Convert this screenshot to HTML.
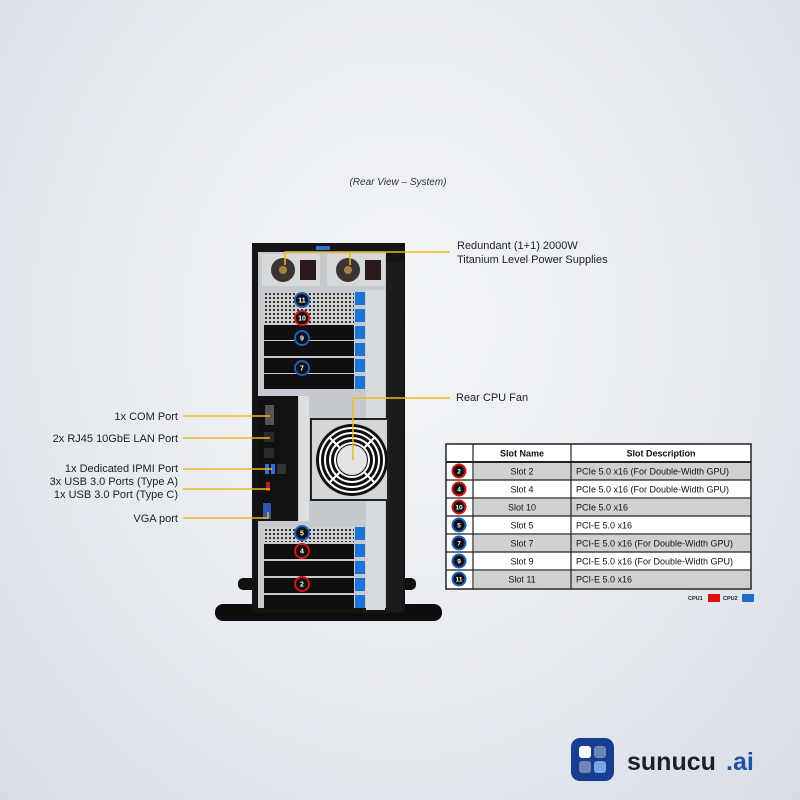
<!DOCTYPE html>
<html><head><meta charset="utf-8"><style>
html,body{margin:0;padding:0;width:800px;height:800px;overflow:hidden}
body{background:radial-gradient(ellipse at 50% 40%,#f3f5f8 0%,#e6e9ee 60%,#d8dde5 100%);font-family:"Liberation Sans",sans-serif}
</style></head><body>
<svg width="800" height="800" viewBox="0 0 800 800" xmlns="http://www.w3.org/2000/svg" font-family="Liberation Sans, sans-serif">
<defs>
<pattern id="gr" width="4" height="4" patternUnits="userSpaceOnUse"><rect width="4" height="4" fill="#d0d0d0"/><rect x="1" y="1" width="2" height="2" fill="#333"/></pattern>
</defs>
<text x="398" y="185" font-size="10" font-style="italic" fill="#333" text-anchor="middle">(Rear View – System)</text>

<!-- feet / base -->
<rect x="238" y="578" width="20" height="12" rx="5" fill="#111"/>
<rect x="392" y="578" width="24" height="12" rx="5" fill="#111"/>
<rect x="215" y="604" width="227" height="17" rx="8" fill="#0d0d0d"/>

<!-- chassis -->
<rect x="252" y="243" width="153" height="370" fill="#141414"/>
<rect x="316" y="246" width="14" height="4" fill="#2e6fd8"/>
<rect x="258" y="252" width="128" height="356" fill="#c6cacf"/>
<rect x="386" y="262" width="17" height="350" fill="#1b1b1b"/>
<!-- PSUs -->
<rect x="262" y="254" width="58" height="32" fill="#d6d8da"/>
<rect x="327" y="254" width="58" height="32" fill="#d6d8da"/>
<circle cx="283" cy="270" r="12" fill="#3a3530"/><circle cx="283" cy="270" r="4" fill="#a88040"/>
<circle cx="348" cy="270" r="12" fill="#3a3530"/><circle cx="348" cy="270" r="4" fill="#a88040"/>
<rect x="300" y="260" width="16" height="20" fill="#2a1a1a"/><rect x="365" y="260" width="16" height="20" fill="#2a1a1a"/>
<!-- right rail -->
<rect x="366" y="290" width="19" height="320" fill="#d8dbde"/>

<!-- upper slots -->
<rect x="264" y="292" width="90" height="15" fill="url(#gr)"/>
<rect x="264" y="308" width="90" height="15" fill="url(#gr)"/>
<rect x="264" y="325" width="90" height="15" fill="#0f0f0f"/>
<rect x="264" y="341" width="90" height="15" fill="#0f0f0f"/>
<rect x="264" y="358" width="90" height="15" fill="#0f0f0f"/>
<rect x="264" y="374" width="90" height="15" fill="#0f0f0f"/>
<g fill="#1e73d6">
<rect x="355" y="292" width="10" height="13"/><rect x="355" y="309" width="10" height="13"/><rect x="355" y="326" width="10" height="13"/>
<rect x="355" y="343" width="10" height="13"/><rect x="355" y="359" width="10" height="13"/><rect x="355" y="376" width="10" height="13"/>
<rect x="355" y="527" width="10" height="13"/><rect x="355" y="544" width="10" height="13"/><rect x="355" y="561" width="10" height="13"/>
<rect x="355" y="578" width="10" height="13"/><rect x="355" y="595" width="10" height="13"/>
</g>

<!-- IO panel -->
<rect x="258" y="396" width="40" height="125" fill="#111"/>
<rect x="299" y="396" width="10" height="125" fill="#dcdee0"/>
<rect x="265" y="405" width="9" height="20" fill="#555"/>
<rect x="264" y="432" width="10" height="10" fill="#2a2a2a"/><rect x="264" y="448" width="10" height="10" fill="#2a2a2a"/>
<rect x="265" y="464" width="4" height="10" fill="#2e6fd8"/><rect x="271" y="464" width="4" height="10" fill="#2e6fd8"/><rect x="277" y="464" width="9" height="10" fill="#333"/>
<rect x="266" y="482" width="4" height="9" fill="#b02020"/>
<rect x="263" y="503" width="8" height="16" fill="#2a55b0"/>

<!-- fan -->
<rect x="311" y="419" width="77" height="81" fill="#d4d6d8" stroke="#222" stroke-width="2"/>
<circle cx="352" cy="460" r="36" fill="#0f0f0f"/>
<g fill="none" stroke="#fff" stroke-width="2">
<circle cx="352" cy="460" r="32"/><circle cx="352" cy="460" r="27"/><circle cx="352" cy="460" r="22"/><circle cx="352" cy="460" r="17"/>
<line x1="330" y1="438" x2="340" y2="448"/><line x1="374" y1="438" x2="364" y2="448"/><line x1="330" y1="482" x2="340" y2="472"/><line x1="374" y1="482" x2="364" y2="472"/>
</g>
<circle cx="352" cy="460" r="15" fill="#e4e4e4"/>

<!-- lower slots -->
<rect x="264" y="527" width="90" height="15" fill="url(#gr)"/>
<rect x="264" y="544" width="90" height="15" fill="#0f0f0f"/>
<rect x="264" y="561" width="90" height="15" fill="#0f0f0f"/>
<rect x="264" y="578" width="90" height="15" fill="#0f0f0f"/>
<rect x="264" y="595" width="90" height="14" fill="#0f0f0f"/>

<!-- chassis badges -->
<g font-size="7" font-weight="bold" fill="#fff" text-anchor="middle">
<circle cx="302" cy="300" r="7" fill="#111" stroke="#1f5fc0" stroke-width="2"/><text x="302" y="302.5">11</text>
<circle cx="302" cy="318" r="7" fill="#111" stroke="#d01818" stroke-width="2"/><text x="302" y="320.5">10</text>
<circle cx="302" cy="338" r="7" fill="#111" stroke="#1f5fc0" stroke-width="2"/><text x="302" y="340.5">9</text>
<circle cx="302" cy="368" r="7" fill="#111" stroke="#1f5fc0" stroke-width="2"/><text x="302" y="370.5">7</text>
<circle cx="302" cy="533" r="7" fill="#111" stroke="#1f5fc0" stroke-width="2"/><text x="302" y="535.5">5</text>
<circle cx="302" cy="551" r="7" fill="#111" stroke="#d01818" stroke-width="2"/><text x="302" y="553.5">4</text>
<circle cx="302" cy="584" r="7" fill="#111" stroke="#d01818" stroke-width="2"/><text x="302" y="586.5">2</text>
</g>

<!-- callout lines -->
<g stroke="#f2b71c" stroke-width="1.5" fill="none">
<polyline points="285,265 285,252 450,252"/><line x1="350" y1="252" x2="350" y2="265"/>
<polyline points="353,460 353,398 450,398"/>
<line x1="183" y1="416" x2="270" y2="416"/>
<line x1="183" y1="438" x2="270" y2="438"/>
<line x1="183" y1="469" x2="272" y2="469"/>
<line x1="183" y1="489" x2="270" y2="489"/>
<polyline points="183,518 268,518 268,512"/>
</g>

<g font-size="11" fill="#222">
<text x="457" y="249">Redundant (1+1) 2000W</text>
<text x="457" y="263">Titanium Level Power Supplies</text>
<text x="456" y="401">Rear CPU Fan</text>
</g>
<g font-size="11" fill="#222" text-anchor="end">
<text x="178" y="420">1x COM Port</text>
<text x="178" y="442">2x RJ45 10GbE LAN Port</text>
<text x="178" y="472">1x Dedicated IPMI Port</text>
<text x="178" y="485">3x USB 3.0 Ports (Type A)</text>
<text x="178" y="498">1x USB 3.0 Port (Type C)</text>
<text x="178" y="522">VGA port</text>
</g>

<!-- table -->
<g>
<rect x="446" y="444" width="305" height="145" fill="#fff" stroke="#222" stroke-width="1.5"/>
<rect x="474" y="463" width="276" height="17" fill="#d0d0d0"/>
<rect x="474" y="499" width="276" height="17" fill="#d0d0d0"/>
<rect x="474" y="535" width="276" height="17" fill="#d0d0d0"/>
<rect x="474" y="571" width="276" height="17" fill="#d0d0d0"/>
<g stroke="#222" stroke-width="1.2">
<line x1="473" y1="444" x2="473" y2="589"/><line x1="571" y1="444" x2="571" y2="589"/>
<line x1="446" y1="462" x2="751" y2="462" stroke-width="2"/>
<line x1="446" y1="480" x2="751" y2="480"/><line x1="446" y1="498" x2="751" y2="498"/>
<line x1="446" y1="516" x2="751" y2="516"/><line x1="446" y1="534" x2="751" y2="534"/>
<line x1="446" y1="552" x2="751" y2="552"/><line x1="446" y1="570" x2="751" y2="570"/>
</g>
<g font-size="9" fill="#111">
<text x="522" y="456.5" text-anchor="middle" font-weight="bold">Slot Name</text>
<text x="661" y="456.5" text-anchor="middle" font-weight="bold">Slot Description</text>
<g text-anchor="middle">
<text x="522" y="474.5">Slot 2</text><text x="522" y="492.5">Slot 4</text><text x="522" y="510.5">Slot 10</text>
<text x="522" y="528.5">Slot 5</text><text x="522" y="546.5">Slot 7</text><text x="522" y="564.5">Slot 9</text><text x="522" y="582.5">Slot 11</text>
</g>
<text x="576" y="474.5">PCIe 5.0 x16 (For Double-Width GPU)</text>
<text x="576" y="492.5">PCIe 5.0 x16 (For Double-Width GPU)</text>
<text x="576" y="510.5">PCIe 5.0 x16</text>
<text x="576" y="528.5">PCI-E 5.0 x16</text>
<text x="576" y="546.5">PCI-E 5.0 x16 (For Double-Width GPU)</text>
<text x="576" y="564.5">PCI-E 5.0 x16 (For Double-Width GPU)</text>
<text x="576" y="582.5">PCI-E 5.0 x16</text>
</g>
<g font-size="6.5" font-weight="bold" fill="#fff" text-anchor="middle">
<circle cx="459" cy="471" r="6.5" fill="#111" stroke="#d01818" stroke-width="2"/><text x="459" y="473.3">2</text>
<circle cx="459" cy="489" r="6.5" fill="#111" stroke="#d01818" stroke-width="2"/><text x="459" y="491.3">4</text>
<circle cx="459" cy="507" r="6.5" fill="#111" stroke="#d01818" stroke-width="2"/><text x="459" y="509.3">10</text>
<circle cx="459" cy="525" r="6.5" fill="#111" stroke="#1f5fc0" stroke-width="2"/><text x="459" y="527.3">5</text>
<circle cx="459" cy="543" r="6.5" fill="#111" stroke="#1f5fc0" stroke-width="2"/><text x="459" y="545.3">7</text>
<circle cx="459" cy="561" r="6.5" fill="#111" stroke="#1f5fc0" stroke-width="2"/><text x="459" y="563.3">9</text>
<circle cx="459" cy="579" r="6.5" fill="#111" stroke="#1f5fc0" stroke-width="2"/><text x="459" y="581.3">11</text>
</g>
<text x="688" y="600" font-size="5.5" font-weight="bold" fill="#222">CPU1</text>
<rect x="708" y="594" width="12" height="8" fill="#e01010"/>
<text x="723" y="600" font-size="5.5" font-weight="bold" fill="#222">CPU2</text>
<rect x="742" y="594" width="12" height="8" fill="#1d6ad0"/>
</g>

<!-- logo -->
<rect x="571" y="738" width="43" height="43" rx="9" fill="#173f8f"/>
<rect x="579" y="746" width="12" height="12" rx="3" fill="#fff"/>
<rect x="594" y="746" width="12" height="12" rx="3" fill="#6f86b8"/>
<rect x="579" y="761" width="12" height="12" rx="3" fill="#6f86b8"/>
<rect x="594" y="761" width="12" height="12" rx="3" fill="#7aa6e8"/>
<text x="627" y="770" font-size="25" font-weight="bold" fill="#1b1f2a">sunucu</text>
<text x="726" y="770" font-size="25" font-weight="bold" fill="#1e4fa3">.ai</text>
</svg>
</body></html>
